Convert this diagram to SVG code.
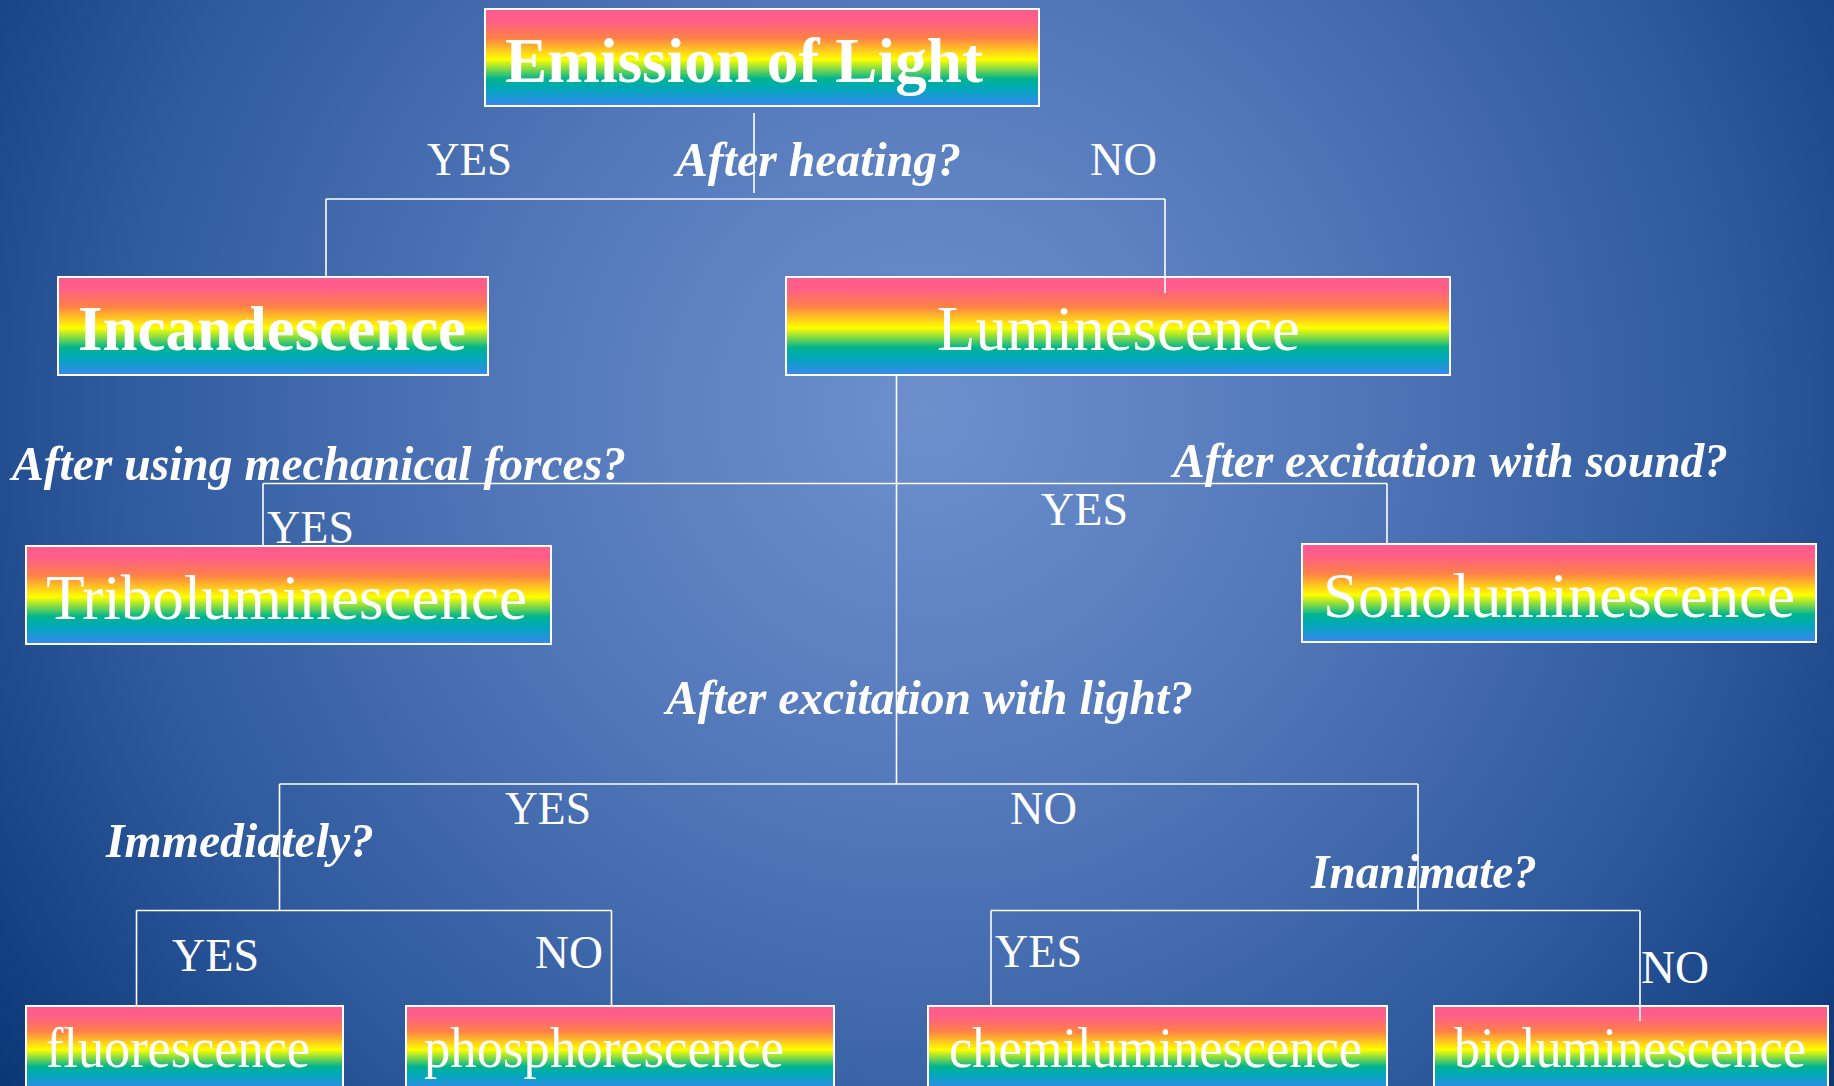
<svg xmlns="http://www.w3.org/2000/svg" width="1834" height="1086" viewBox="0 0 1834 1086">
<defs>
<radialGradient id="bg" cx="924" cy="410" r="1150" gradientUnits="userSpaceOnUse">
<stop offset="0" stop-color="#6d90cd"/>
<stop offset="0.35" stop-color="#5378ba"/>
<stop offset="0.7" stop-color="#2f5a9e"/>
<stop offset="1" stop-color="#0a3676"/>
</radialGradient>
<linearGradient id="rb" x1="0" y1="0" x2="0" y2="1">
<stop offset="0" stop-color="#ff5a90"/>
<stop offset="0.12" stop-color="#ff5f88"/>
<stop offset="0.3" stop-color="#ff8048"/>
<stop offset="0.52" stop-color="#ffff00"/>
<stop offset="0.72" stop-color="#00b48f"/>
<stop offset="0.82" stop-color="#00a8b8"/>
<stop offset="1" stop-color="#3a86f0"/>
</linearGradient>
<style>
.box{fill:url(#rb);stroke:#ffffff;stroke-width:2}
.t{font-family:"Liberation Serif","Times New Roman",serif;fill:#ffffff}
.big{font-size:64px}
.bold{font-weight:bold}
.sm{font-size:58px}
.q{font-size:49px;font-weight:bold;font-style:italic}
.yn{font-size:47px}
.c line{stroke:#ffffff;stroke-width:1.6}
</style>
</defs>
<rect x="0" y="0" width="1834" height="1086" fill="url(#bg)"/>

<g id="emission">
<rect class="box" x="485" y="9" width="554" height="97"/>
<text class="t big bold" x="505" y="82" textLength="478" lengthAdjust="spacingAndGlyphs">Emission of Light</text>
</g>
<g id="incandescence">
<rect class="box" x="58" y="277" width="430" height="98"/>
<text class="t big bold" x="78" y="350" textLength="388" lengthAdjust="spacingAndGlyphs">Incandescence</text>
</g>
<g id="luminescence">
<rect class="box" x="786" y="277" width="664" height="98"/>
<text class="t big" x="937" y="350" textLength="363" lengthAdjust="spacingAndGlyphs">Luminescence</text>
</g>
<g id="triboluminescence">
<rect class="box" x="26" y="546" width="525" height="98"/>
<text class="t big" x="46" y="619" textLength="481" lengthAdjust="spacingAndGlyphs">Triboluminescence</text>
</g>
<g id="sonoluminescence">
<rect class="box" x="1302" y="544" width="514" height="98"/>
<text class="t big" x="1323" y="617" textLength="472" lengthAdjust="spacingAndGlyphs">Sonoluminescence</text>
</g>
<g id="fluorescence">
<rect class="box" x="26" y="1006" width="317" height="84"/>
<text class="t sm" x="46" y="1067" textLength="264" lengthAdjust="spacingAndGlyphs">fluorescence</text>
</g>
<g id="phosphorescence">
<rect class="box" x="406" y="1006" width="428" height="84"/>
<text class="t sm" x="424" y="1067" textLength="360" lengthAdjust="spacingAndGlyphs">phosphorescence</text>
</g>
<g id="chemiluminescence">
<rect class="box" x="928" y="1006" width="459" height="84"/>
<text class="t sm" x="949" y="1067" textLength="413" lengthAdjust="spacingAndGlyphs">chemiluminescence</text>
</g>
<g id="bioluminescence">
<rect class="box" x="1434" y="1006" width="394" height="84"/>
<text class="t sm" x="1454" y="1067" textLength="352" lengthAdjust="spacingAndGlyphs">bioluminescence</text>
</g>

<g id="questions">
<text class="t q" x="676" y="176" textLength="285" lengthAdjust="spacingAndGlyphs">After heating?</text>
<text class="t q" x="12" y="480" textLength="614" lengthAdjust="spacingAndGlyphs">After using mechanical forces?</text>
<text class="t q" x="1173" y="477" textLength="555" lengthAdjust="spacingAndGlyphs">After excitation with sound?</text>
<text class="t q" x="666" y="714" textLength="527" lengthAdjust="spacingAndGlyphs">After excitation with light?</text>
<text class="t q" x="106" y="857" textLength="268" lengthAdjust="spacingAndGlyphs">Immediately?</text>
<text class="t q" x="1311" y="888" textLength="226" lengthAdjust="spacingAndGlyphs">Inanimate?</text>
</g>

<g id="answers">
<text class="t yn" x="427" y="175" textLength="85" lengthAdjust="spacingAndGlyphs">YES</text>
<text class="t yn" x="1090" y="175" textLength="67" lengthAdjust="spacingAndGlyphs">NO</text>
<text class="t yn" x="267" y="543" textLength="87" lengthAdjust="spacingAndGlyphs">YES</text>
<text class="t yn" x="1041" y="525" textLength="87" lengthAdjust="spacingAndGlyphs">YES</text>
<text class="t yn" x="505" y="824" textLength="86" lengthAdjust="spacingAndGlyphs">YES</text>
<text class="t yn" x="1010" y="824" textLength="67" lengthAdjust="spacingAndGlyphs">NO</text>
<text class="t yn" x="172" y="971" textLength="87" lengthAdjust="spacingAndGlyphs">YES</text>
<text class="t yn" x="535" y="968" textLength="68" lengthAdjust="spacingAndGlyphs">NO</text>
<text class="t yn" x="995" y="967" textLength="87" lengthAdjust="spacingAndGlyphs">YES</text>
<text class="t yn" x="1641" y="983" textLength="68" lengthAdjust="spacingAndGlyphs">NO</text>
</g>

<g id="connectors" class="c">
<line x1="754" y1="113" x2="754" y2="193"/>
<line x1="326" y1="199" x2="1165" y2="199"/>
<line x1="326" y1="199" x2="326" y2="277"/>
<line x1="1165" y1="199" x2="1165" y2="293"/>
<line x1="896.5" y1="375" x2="896.5" y2="784"/>
<line x1="263" y1="483.5" x2="1387" y2="483.5"/>
<line x1="263" y1="483.5" x2="263" y2="546"/>
<line x1="1387" y1="483.5" x2="1387" y2="544"/>
<line x1="279.5" y1="784" x2="1418" y2="784"/>
<line x1="279.5" y1="784" x2="279.5" y2="910.5"/>
<line x1="1418" y1="784" x2="1418" y2="910.5"/>
<line x1="136.5" y1="910.5" x2="611.5" y2="910.5"/>
<line x1="136.5" y1="910.5" x2="136.5" y2="1006"/>
<line x1="611.5" y1="910.5" x2="611.5" y2="1006"/>
<line x1="991" y1="910.5" x2="1640" y2="910.5"/>
<line x1="991" y1="910.5" x2="991" y2="1006"/>
<line x1="1640" y1="910.5" x2="1640" y2="1021"/>
</g>
</svg>
